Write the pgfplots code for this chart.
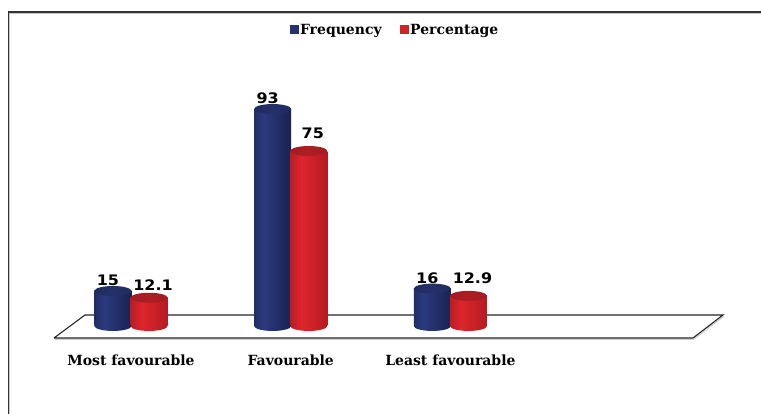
\documentclass[border=0pt]{standalone}
\usepackage{pgfplots}
\pgfplotsset{compat=1.18}
\usepackage{fontspec}
\setmainfont{DejaVu Serif}
\newfontfamily\valfont{DejaVu Sans}[FakeStretch=1.1]

% cylinder colours
\definecolor{navyedge}{HTML}{131B44}
\definecolor{navydark}{HTML}{1B2558}
\definecolor{navymid}{HTML}{2B3A7D}
\definecolor{navytop}{HTML}{1B2554}
\definecolor{navytopl}{HTML}{243068}
\definecolor{rededge}{HTML}{93141A}
\definecolor{reddark}{HTML}{B81C22}
\definecolor{redmid}{HTML}{DD252C}
\definecolor{redtop}{HTML}{961820}
\definecolor{redtopl}{HTML}{AE1E24}
\definecolor{framegray}{HTML}{333333}

% horizontal shadings for the cylinder bodies and lids
\pgfdeclarehorizontalshading{bodyblue}{100bp}{color(0bp)=(navyedge); color(8bp)=(navyedge); color(38bp)=(navymid); color(70bp)=(navydark); color(92bp)=(navyedge); color(100bp)=(navyedge)}
\pgfdeclarehorizontalshading{bodyred}{100bp}{color(0bp)=(rededge); color(8bp)=(rededge); color(40bp)=(redmid); color(72bp)=(reddark); color(92bp)=(rededge); color(100bp)=(rededge)}
\pgfdeclarehorizontalshading{lidblue}{100bp}{color(0bp)=(navytop); color(50bp)=(navytopl); color(100bp)=(navytop)}
\pgfdeclarehorizontalshading{lidred}{100bp}{color(0bp)=(redtop); color(50bp)=(redtopl); color(100bp)=(redtop)}

% elliptical marks for the bottom and the lid of each cylinder
\pgfdeclareplotmark{botblue}{\pgfpathellipse{\pgfpointorigin}{\pgfqpoint{\pgfplotmarksize}{0pt}}{\pgfqpoint{0pt}{0.27\pgfplotmarksize}}\pgfshadepath{bodyblue}{0}\pgfusepath{discard}}
\pgfdeclareplotmark{botred}{\pgfpathellipse{\pgfpointorigin}{\pgfqpoint{\pgfplotmarksize}{0pt}}{\pgfqpoint{0pt}{0.27\pgfplotmarksize}}\pgfshadepath{bodyred}{0}\pgfusepath{discard}}
\pgfdeclareplotmark{topblue}{\pgfpathellipse{\pgfpointorigin}{\pgfqpoint{\pgfplotmarksize}{0pt}}{\pgfqpoint{0pt}{0.27\pgfplotmarksize}}\pgfshadepath{lidblue}{0}\pgfusepath{discard}}
\pgfdeclareplotmark{topred}{\pgfpathellipse{\pgfpointorigin}{\pgfqpoint{\pgfplotmarksize}{0pt}}{\pgfqpoint{0pt}{0.27\pgfplotmarksize}}\pgfshadepath{lidred}{0}\pgfusepath{discard}}

% one cylinder: #1 = series (blue/red), #2 = x position, #3 = value,
% #4 / #5 = horizontal / vertical shift of its value label
\newcommand\cylinder[5]{%
  \addplot[forget plot, only marks, mark=bot#1, mark size=18.5pt] coordinates {(#2,0)};
  \addplot[forget plot, ybar, bar width=0.232, bar shift=0pt, draw=none, shade, shading=body#1] coordinates {(#2,#3)};
  \addplot[forget plot, only marks, mark=top#1, mark size=18.5pt, nodes near coords,
    every node near coord/.append style={xshift=#4, yshift=#5}] coordinates {(#2,#3)};
}

\begin{document}
\begin{tikzpicture}[x=1pt,y=1pt]
\useasboundingbox (0,0) rectangle (761,414);
% outer frame (left and top edges)
\draw[gray!45, line width=1pt] (9.8,0) -- (9.8,400.6) -- (761,400.6);
\draw[framegray, line width=1.1pt] (8.5,0) -- (8.5,402) -- (761,402);

\begin{axis}[
  at={(35.2pt,64.7pt)}, anchor=south west,
  scale only axis, width=718.6pt, height=256.6pt,
  xmin=-0.6, xmax=3.9, ymin=-10, ymax=100,
  clip=false,
  hide y axis,
  axis x line*=bottom,
  x axis line style={draw=none},
  xtick={0,1,2},
  xticklabels={Most favourable, Favourable, Least favourable},
  xtick style={draw=none},
  major tick length=0pt,
  xticklabel style={font=\bfseries\fontsize{14}{16}\selectfont, yshift=-2pt},
  /pgf/number format/assume math mode=true,
  nodes near coords style={font=\valfont\bfseries\fontsize{14.5}{16}\selectfont, text=black},
  legend style={at={(0.5007,1.2443)}, anchor=center, draw=none, fill=none,
    font=\bfseries\fontsize{14}{16}\selectfont, inner sep=0pt,
    /tikz/every even column/.append style={column sep=16pt}},
  legend columns=2,
]
% floor of the chart
\addplot[forget plot, draw=gray!40, line width=1pt] coordinates {(-0.478,-5.7) (3.524,-5.7) (3.711,4.15)};
\addplot[forget plot, fill=white, draw=black!85, line width=1.1pt] coordinates {(-0.482,-5.14) (3.52,-5.14) (3.707,4.71) (-0.288,4.71) (-0.482,-5.14)};

\addlegendimage{legend image code/.code={\fill[navymid!70!navyedge] (0pt,-3.6pt) rectangle (8pt,4.4pt);}}
\addlegendentry{Frequency}
\addlegendimage{legend image code/.code={\fill[redmid!85!rededge] (0pt,-3.6pt) rectangle (8pt,4.4pt);}}
\addlegendentry{Percentage}

% Most favourable
\cylinder{blue}{-0.113}{15}{-5pt}{1.5pt}
\cylinder{red}{0.113}{12.1}{4pt}{4pt}
% Favourable
\cylinder{blue}{0.887}{93}{-5pt}{1.5pt}
\cylinder{red}{1.113}{75}{4pt}{9pt}
% Least favourable
\cylinder{blue}{1.887}{16}{-5pt}{1.5pt}
\cylinder{red}{2.113}{12.9}{4pt}{9pt}
\end{axis}
\end{tikzpicture}
\end{document}
